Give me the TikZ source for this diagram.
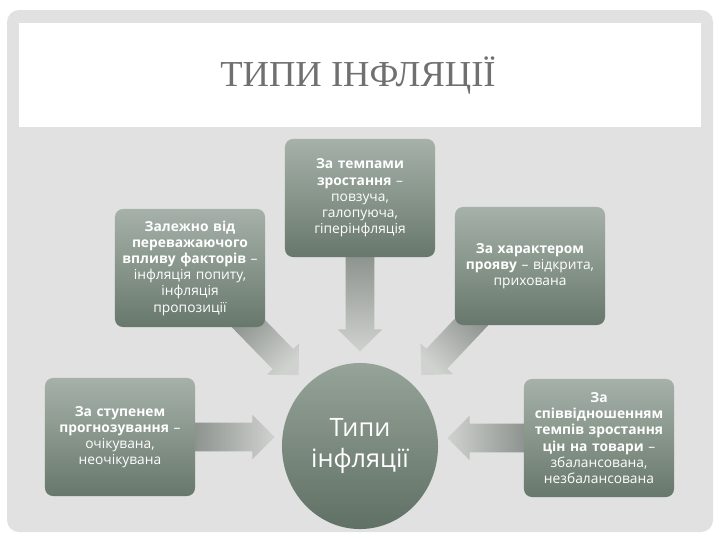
\documentclass[tikz,border=0pt]{standalone}
\usepackage{fontspec}
\setmainfont{Liberation Serif}
\newfontfamily\boxfont{Open Sans}
\usetikzlibrary{calc,shapes.geometric}
\pgfdeclarelayer{back}
\pgfdeclarelayer{flows}
\pgfsetlayers{back,flows,main}
\definecolor{panelgrey}{RGB}{225,225,225}
\definecolor{titlegrey}{RGB}{112,112,112}
\definecolor{boxtop}{RGB}{166,178,169}
\definecolor{boxbot}{RGB}{104,119,108}
\definecolor{coretop}{RGB}{150,163,153}
\definecolor{corebot}{RGB}{96,112,100}
\definecolor{flowdark}{RGB}{138,144,139}
\definecolor{flowlight}{RGB}{208,210,208}
\tikzset{
  kind/.style={rounded corners=0.2cm, top color=boxtop, bottom color=boxbot, text=white,
    minimum width=3.75cm, minimum height=2.95cm, text width=3.65cm, align=center,
    inner sep=0pt, font=\boxfont\fontsize{9.8}{11.5}\selectfont},
  core/.style={ellipse, top color=coretop, bottom color=corebot, text=white,
    minimum width=3.9cm, minimum height=4.15cm, align=center, inner sep=0pt,
    font=\boxfont\fontsize{18}{22}\selectfont},
  flow/.style={top color=flowdark, bottom color=flowlight, shading angle=#1},
  headline/.style={text=titlegrey, font=\fontsize{26}{30}\selectfont}
}
\newcommand\flowarrow[3]{%
  \coordinate (neck) at ($(#3)!0.56cm!(#2)$);
  \path[flow=#1] ($(#2)!0.36cm!90:(#3)$) -- ($(neck)!0.36cm!90:(#3)$)
    -- ($(neck)!0.56cm!90:(#3)$) -- (#3) -- ($(neck)!0.56cm!-90:(#3)$)
    -- ($(neck)!0.36cm!-90:(#3)$) -- ($(#2)!0.36cm!-90:(#3)$) -- cycle;
}
\begin{document}
\begin{tikzpicture}[x=0.025cm, y=-0.025cm]
\useasboundingbox (0,0) rectangle (720,540);
\begin{pgfonlayer}{back}
  \fill[panelgrey, rounded corners=0.3cm] (7,10) rectangle (713,532);
  \fill[white] (19,23) rectangle (701,127);
\end{pgfonlayer}
\node[headline] (head) at (358,76) {ТИПИ ІНФЛЯЦІЇ};

\node[kind] (tempo) at (360,198) {\textbf{За темпами}\\ \textbf{зростання} –\\ повзуча,\\ галопуюча,\\ гіперінфляція};
\node[kind] (factors) at (190,268) {\textbf{Залежно від}\\ \textbf{переважаючого}\\ \textbf{впливу факторів} –\\ інфляція попиту,\\ інфляція\\ пропозиції};
\node[kind] (nature) at (530,266) {\textbf{За характером}\\ \textbf{прояву} – відкрита,\\ прихована};
\node[kind] (forecast) at (120,437) {\textbf{За ступенем}\\ \textbf{прогнозування} –\\ очікувана,\\ неочікувана};
\node[kind] (ratio) at (599,438) {\textbf{За}\\ \textbf{співвідношенням}\\ \textbf{темпів зростання}\\ \textbf{цін на товари} –\\ збалансована,\\ незбалансована};
\node[core] (core) at (360,446) {Типи\\ інфляції};

\coordinate (t1) at ($(tempo.south)+(0,-6)$);
\coordinate (h1) at ($(core.north)+(0,-11)$);
\coordinate (t2) at ($(factors.south east)+(-25,-12)$);
\coordinate (h2) at ($(core.north west)+(-6,-12)$);
\coordinate (t3) at ($(nature.south west)+(25,-12)$);
\coordinate (h3) at ($(core.north east)+(6,-12)$);
\coordinate (t4) at ($(forecast.east)+(-5,0)$);
\coordinate (h4) at ($(forecast.east -| core.west)+(-7,0)$);
\coordinate (t5) at ($(ratio.west)+(5,0)$);
\coordinate (h5) at ($(ratio.west -| core.east)+(9,0)$);
\begin{pgfonlayer}{flows}
  \flowarrow{0}{t1}{h1}
  \flowarrow{45}{t2}{h2}
  \flowarrow{-45}{t3}{h3}
  \flowarrow{90}{t4}{h4}
  \flowarrow{-90}{t5}{h5}
\end{pgfonlayer}
\end{tikzpicture}
\end{document}
